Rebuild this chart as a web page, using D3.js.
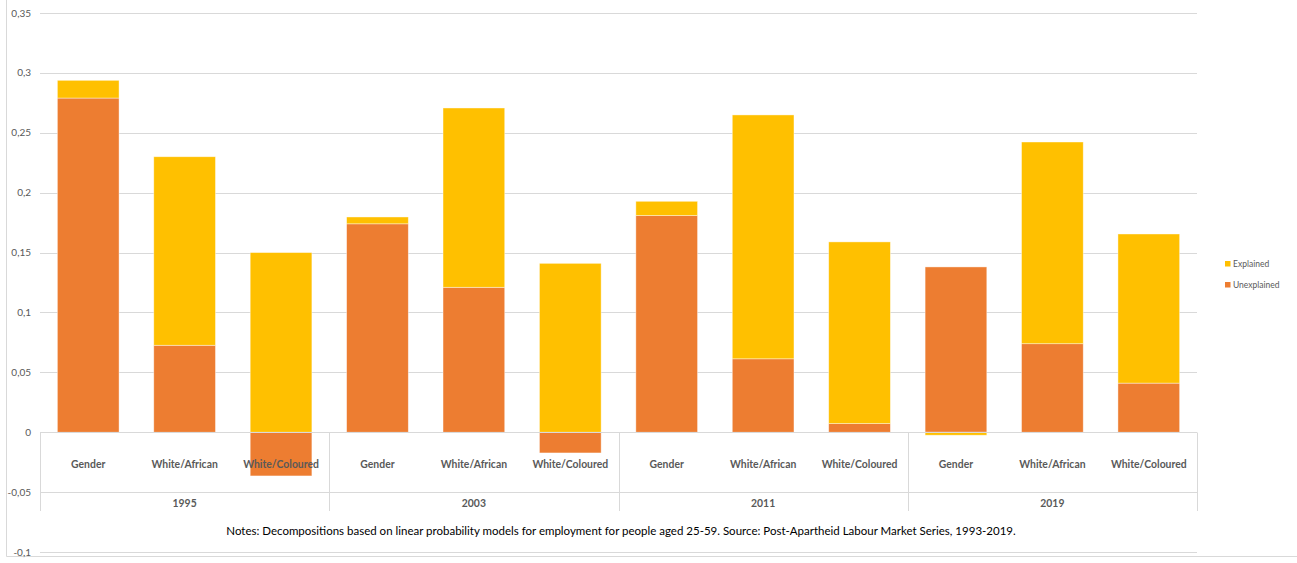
<!DOCTYPE html>
<html>
<head>
<meta charset="utf-8">
<script src="https://cdn.jsdelivr.net/npm/d3@7"></script>
<style>
  html, body { margin: 0; padding: 0; background: #fff; }
  svg { display: block; }
  text { font-family: Lato, "Open Sans", sans-serif; fill: #595959; }
</style>
</head>
<body>
<svg id="chart" width="1297" height="563"></svg>
<script>
// Decomposition of employment gaps, by year and comparison
const years = ["1995", "2003", "2011", "2019"];
const comparisons = ["Gender", "White/African", "White/Coloured"];
const unexplained = [0.279, 0.0726, -0.0365, 0.174, 0.121, -0.0173, 0.1809, 0.0613, 0.0072, 0.138, 0.0739, 0.041];
const explained   = [0.0148, 0.1574, 0.150, 0.0057, 0.1497, 0.141, 0.0119, 0.2036, 0.1517, -0.0025, 0.1684, 0.1245];
const yTicks = [-0.1, -0.05, 0, 0.05, 0.1, 0.15, 0.2, 0.25, 0.3, 0.35];
const seriesNames = ["Unexplained", "Explained"];
const colors = { Unexplained: "#ED7D31", Explained: "#FFC000" };
const note = "Notes: Decompositions based on linear probability models for employment for people aged 25-59. Source: Post-Apartheid Labour Market Series, 1993-2019.";

const rows = [];
years.forEach((yr, i) => comparisons.forEach((c, j) => {
  const k = i * comparisons.length + j;
  rows.push({ key: yr + "|" + c, year: yr, comp: c, Unexplained: unexplained[k], Explained: explained[k] });
}));

const svg = d3.select("#chart");
const plotLeft = 40, plotRight = 1197, plotTop = 13, plotBottom = 552;

const y = d3.scaleLinear().domain([-0.1, 0.35]).range([plotBottom, plotTop]);
const x = d3.scaleBand().domain(rows.map(d => d.key)).range([plotLeft, plotRight])
  .paddingInner(0.36).paddingOuter(0.18);
const xGroup = d3.scaleBand().domain(years).range([plotLeft, plotRight]);

// outer chart border (left and bottom edges)
svg.append("path").attr("d", "M6.5,0 V556.5 H1297")
  .attr("fill", "none").attr("stroke", "#D9D9D9").attr("stroke-width", 1);

// horizontal gridlines
svg.append("g").selectAll("line").data(yTicks.filter(t => t !== 0)).join("line")
  .attr("x1", plotLeft).attr("x2", plotRight)
  .attr("y1", d => Math.round(y(d)) + 0.5).attr("y2", d => Math.round(y(d)) + 0.5)
  .attr("stroke", "#D9D9D9").attr("stroke-width", 1);

// y tick labels
svg.append("g").selectAll("text").data(yTicks).join("text")
  .attr("x", 31).attr("y", d => y(d) + 3.5)
  .attr("text-anchor", "end").attr("font-size", 10)
  .text(d => String(d).replace(".", ","));

// stacked bars (positive values stack upward, negative downward)
const stacked = d3.stack().keys(seriesNames).offset(d3.stackOffsetDiverging)(rows);
svg.append("g").selectAll("g").data(stacked).join("g")
  .attr("fill", s => colors[s.key])
  .selectAll("rect").data(s => s).join("rect")
  .attr("x", d => x(d.data.key))
  .attr("width", x.bandwidth())
  .attr("y", d => y(Math.max(d[0], d[1])))
  .attr("height", d => Math.abs(y(d[0]) - y(d[1])))
  .attr("stroke", "rgba(255,255,255,0.55)").attr("stroke-width", 0.75);

// category axis table
const yZero = Math.round(y(0)) + 0.5;
const g = svg.append("g").attr("stroke", "#D9D9D9").attr("stroke-width", 1);
g.append("line").attr("x1", plotLeft).attr("x2", plotRight).attr("y1", yZero).attr("y2", yZero);
const seps = years.map(yr => xGroup(yr)).concat([plotRight]);
g.selectAll("line.sep").data(seps).join("line").attr("class", "sep")
  .attr("x1", d => Math.round(d) + 0.5).attr("x2", d => Math.round(d) + 0.5)
  .attr("y1", yZero).attr("y2", 511);

svg.append("g").selectAll("text").data(rows).join("text")
  .attr("x", d => x(d.key) + x.bandwidth() / 2).attr("y", 467.5)
  .attr("text-anchor", "middle").attr("font-size", 10.4).attr("font-weight", "bold")
  .text(d => d.comp);

svg.append("g").selectAll("text").data(years).join("text")
  .attr("x", d => xGroup(d) + xGroup.bandwidth() / 2).attr("y", 506.5)
  .attr("text-anchor", "middle").attr("font-size", 10.4).attr("font-weight", "bold")
  .text(d => d);

// note
svg.append("text").attr("x", 621).attr("y", 535)
  .attr("text-anchor", "middle").attr("font-size", 11.5)
  .style("fill", "#000")
  .text(note);

// legend
const legend = svg.append("g").selectAll("g").data(["Explained", "Unexplained"]).join("g")
  .attr("transform", (d, i) => `translate(1225, ${261 + i * 21})`);
legend.append("rect").attr("width", 5.5).attr("height", 5.5).attr("fill", d => colors[d]);
legend.append("text").attr("x", 8).attr("y", 6).attr("font-size", 8.5).text(d => d);
</script>
</body>
</html>
